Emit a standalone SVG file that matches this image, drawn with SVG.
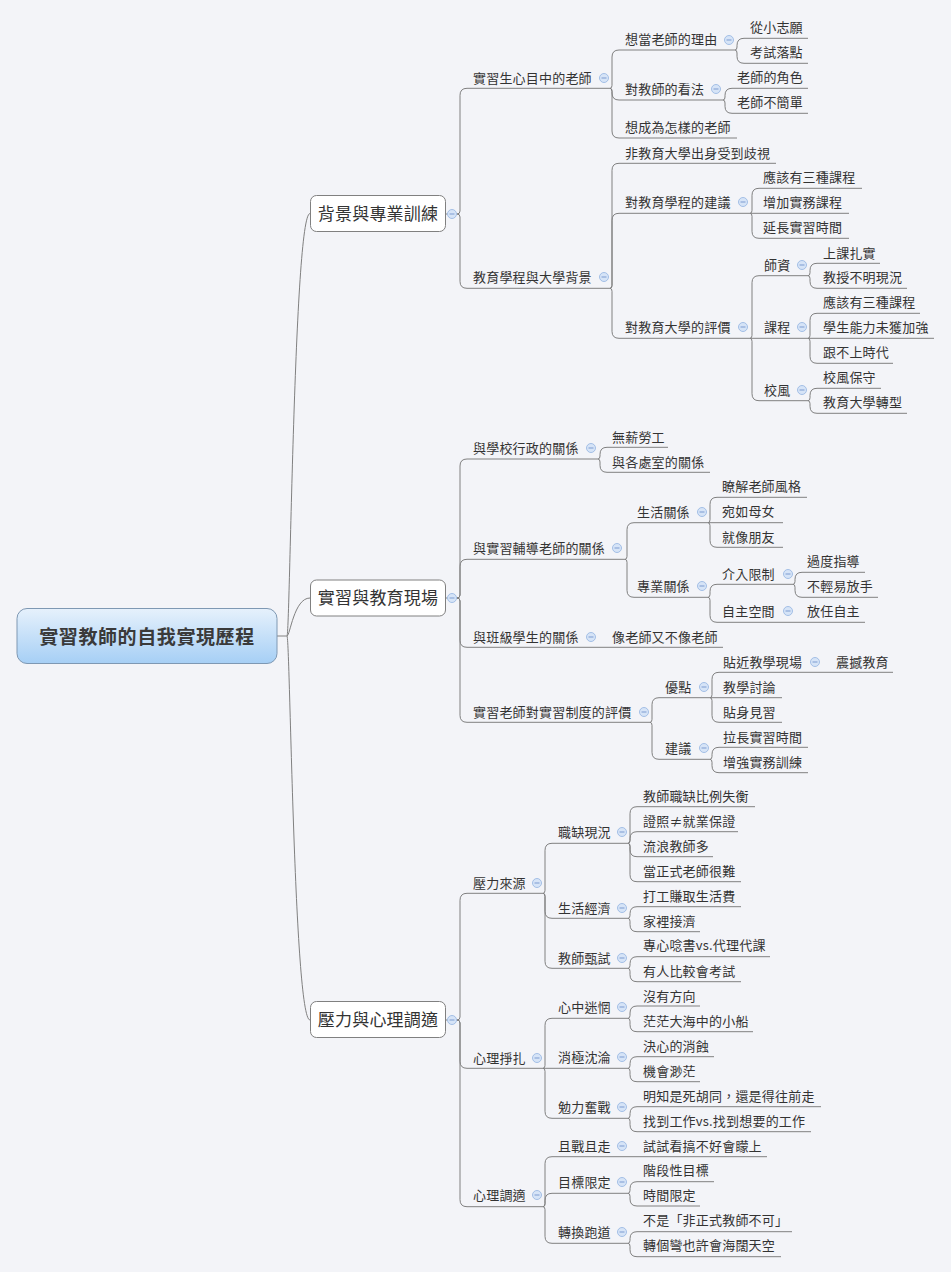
<svg xmlns="http://www.w3.org/2000/svg" xmlns:xlink="http://www.w3.org/1999/xlink" width="951" height="1272" viewBox="0 0 951 1272" xml:lang="zh-Hant-TW" lang="zh-Hant-TW">
<defs>
<linearGradient id="rg" x1="0" y1="0" x2="0" y2="1">
<stop offset="0" stop-color="#e6f1fc"/>
<stop offset="1" stop-color="#a6cff5"/>
</linearGradient>
<g id="col"><circle r="4.5" fill="#d6e4f7" stroke="#a3bfe6" stroke-width="1"/><path d="M-2.5 0H2.5" stroke="#7c9bd0" stroke-width="1"/></g>
<style>
text{font-family:"Noto Sans CJK TC","Noto Sans CJK SC",sans-serif;fill:#333;}
.t{font-size:13px;letter-spacing:0.2px;}
.mt{font-size:17px;text-anchor:middle;letter-spacing:0.2px;}
.rt{font-size:19px;font-weight:bold;text-anchor:middle;letter-spacing:0.6px;fill:#3a3a3a;}
.ul{fill:none;stroke:#808080;stroke-width:1;}
.c path{fill:none;stroke:#808080;stroke-width:1;}
.box{fill:#ffffff;stroke:#808080;stroke-width:1;}
</style>
</defs>
<rect width="951" height="1272" fill="#f3f4f8"/>
<g id="connectors" class="c">
<path d="M277,636 H287 C290,636 294,213.5 310,213.5"/>
<path d="M287,636 C290,636 294,598 310,598"/>
<path d="M287,636 C290,636 294,1020 310,1020"/>
<path d="M446,214 H457"/>
<path d="M446,598 H457"/>
<path d="M446,1020 H457"/>
<path d="M457,214 Q460,214 460,211 V95.3 Q460,88.3 467,88.3"/>
<path d="M457,214 Q460,214 460,217 V281.3 Q460,288.3 467,288.3"/>
<path d="M610,88.3 Q612,88.3 612,85.3 V57 Q612,50 619,50"/>
<path d="M610,88.3 Q612,88.3 612,91.3 V93 Q612,100 619,100"/>
<path d="M610,88.3 Q612,88.3 612,91.3 V131 Q612,138 619,138"/>
<path d="M735,50 Q737,50 737,47 V45.3 Q737,38.3 744,38.3"/>
<path d="M735,50 Q737,50 737,53 V56.3 Q737,63.3 744,63.3"/>
<path d="M723,100 Q725,100 725,97 V95.3 Q725,88.3 732,88.3"/>
<path d="M723,100 Q725,100 725,103 V106.3 Q725,113.3 732,113.3"/>
<path d="M610,288.3 Q612,288.3 612,285.3 V170.3 Q612,163.3 619,163.3"/>
<path d="M610,288.3 Q612,288.3 612,285.3 V220.3 Q612,213.3 619,213.3"/>
<path d="M610,288.3 Q612,288.3 612,291.3 V331.3 Q612,338.3 619,338.3"/>
<path d="M750,213.3 Q752,213.3 752,210.3 V195.3 Q752,188.3 759,188.3"/>
<path d="M750,213.3 H759"/>
<path d="M750,213.3 Q752,213.3 752,216.3 V231.3 Q752,238.3 759,238.3"/>
<path d="M750,338.3 Q752,338.3 752,335.3 V282.7 Q752,275.7 759,275.7"/>
<path d="M750,338.3 H759"/>
<path d="M750,338.3 Q752,338.3 752,341.3 V393.7 Q752,400.7 759,400.7"/>
<path d="M808,275.7 Q810,275.7 810,272.7 V270.3 Q810,263.3 817,263.3"/>
<path d="M808,275.7 Q810,275.7 810,278.7 V281.3 Q810,288.3 817,288.3"/>
<path d="M808,338.3 Q810,338.3 810,335.3 V320.3 Q810,313.3 817,313.3"/>
<path d="M808,338.3 H817"/>
<path d="M808,338.3 Q810,338.3 810,341.3 V356.3 Q810,363.3 817,363.3"/>
<path d="M808,400.7 Q810,400.7 810,397.7 V395.3 Q810,388.3 817,388.3"/>
<path d="M808,400.7 Q810,400.7 810,403.7 V406.3 Q810,413.3 817,413.3"/>
<path d="M457,598 Q460,598 460,595 V466 Q460,459 467,459"/>
<path d="M457,598 Q460,598 460,595 V566.3 Q460,559.3 467,559.3"/>
<path d="M457,598 Q460,598 460,601 V640.3 Q460,647.3 467,647.3"/>
<path d="M457,598 Q460,598 460,601 V715.3 Q460,722.3 467,722.3"/>
<path d="M598,459 Q600,459 600,456 V454.3 Q600,447.3 607,447.3"/>
<path d="M598,459 Q600,459 600,462 V465.3 Q600,472.3 607,472.3"/>
<path d="M625,559.3 Q627,559.3 627,556.3 V529.7 Q627,522.7 634,522.7"/>
<path d="M625,559.3 Q627,559.3 627,562.3 V590.3 Q627,597.3 634,597.3"/>
<path d="M708,522.7 Q710,522.7 710,519.7 V504.3 Q710,497.3 717,497.3"/>
<path d="M708,522.7 H717"/>
<path d="M708,522.7 Q710,522.7 710,525.7 V540.3 Q710,547.3 717,547.3"/>
<path d="M708,597.3 Q710,597.3 710,594.3 V591.3 Q710,584.3 717,584.3"/>
<path d="M708,597.3 Q710,597.3 710,600.3 V615.3 Q710,622.3 717,622.3"/>
<path d="M793,584.3 Q795,584.3 795,581.3 V579.3 Q795,572.3 802,572.3"/>
<path d="M793,584.3 Q795,584.3 795,587.3 V590.3 Q795,597.3 802,597.3"/>
<path d="M793,622.3 H802"/>
<path d="M598,647.3 H607"/>
<path d="M650,722.3 Q652,722.3 652,719.3 V704.7 Q652,697.7 659,697.7"/>
<path d="M650,722.3 Q652,722.3 652,725.3 V752.3 Q652,759.3 659,759.3"/>
<path d="M710,697.7 Q712,697.7 712,694.7 V679.3 Q712,672.3 719,672.3"/>
<path d="M710,697.7 H719"/>
<path d="M710,697.7 Q712,697.7 712,700.7 V715.3 Q712,722.3 719,722.3"/>
<path d="M822,672.3 H831"/>
<path d="M710,759.3 Q712,759.3 712,756.3 V754.3 Q712,747.3 719,747.3"/>
<path d="M710,759.3 Q712,759.3 712,762.3 V765.7 Q712,772.7 719,772.7"/>
<path d="M457,1020 Q460,1020 460,1017 V900.3 Q460,893.3 467,893.3"/>
<path d="M457,1020 Q460,1020 460,1023 V1061.3 Q460,1068.3 467,1068.3"/>
<path d="M457,1020 Q460,1020 460,1023 V1199.7 Q460,1206.7 467,1206.7"/>
<path d="M543,893.3 Q545,893.3 545,890.3 V850.3 Q545,843.3 552,843.3"/>
<path d="M543,893.3 Q545,893.3 545,896.3 V911.3 Q545,918.3 552,918.3"/>
<path d="M543,893.3 Q545,893.3 545,896.3 V961.3 Q545,968.3 552,968.3"/>
<path d="M628,843.3 Q630,843.3 630,840.3 V813.7 Q630,806.7 637,806.7"/>
<path d="M628,843.3 Q630,843.3 630,840.3 V838.7 Q630,831.7 637,831.7"/>
<path d="M628,843.3 Q630,843.3 630,846.3 V849.7 Q630,856.7 637,856.7"/>
<path d="M628,843.3 Q630,843.3 630,846.3 V874.7 Q630,881.7 637,881.7"/>
<path d="M628,918.3 Q630,918.3 630,915.3 V913.7 Q630,906.7 637,906.7"/>
<path d="M628,918.3 Q630,918.3 630,921.3 V924.7 Q630,931.7 637,931.7"/>
<path d="M628,968.3 Q630,968.3 630,965.3 V963.7 Q630,956.7 637,956.7"/>
<path d="M628,968.3 Q630,968.3 630,971.3 V974.7 Q630,981.7 637,981.7"/>
<path d="M543,1068.3 Q545,1068.3 545,1065.3 V1025.3 Q545,1018.3 552,1018.3"/>
<path d="M543,1068.3 H552"/>
<path d="M543,1068.3 Q545,1068.3 545,1071.3 V1111.3 Q545,1118.3 552,1118.3"/>
<path d="M628,1018.3 Q630,1018.3 630,1015.3 V1013 Q630,1006 637,1006"/>
<path d="M628,1018.3 Q630,1018.3 630,1021.3 V1024.7 Q630,1031.7 637,1031.7"/>
<path d="M628,1068.3 Q630,1068.3 630,1065.3 V1063.7 Q630,1056.7 637,1056.7"/>
<path d="M628,1068.3 Q630,1068.3 630,1071.3 V1074.7 Q630,1081.7 637,1081.7"/>
<path d="M628,1118.3 Q630,1118.3 630,1115.3 V1113.7 Q630,1106.7 637,1106.7"/>
<path d="M628,1118.3 Q630,1118.3 630,1121.3 V1124.7 Q630,1131.7 637,1131.7"/>
<path d="M543,1206.7 Q545,1206.7 545,1203.7 V1163.7 Q545,1156.7 552,1156.7"/>
<path d="M543,1206.7 Q545,1206.7 545,1203.7 V1200.3 Q545,1193.3 552,1193.3"/>
<path d="M543,1206.7 Q545,1206.7 545,1209.7 V1236.3 Q545,1243.3 552,1243.3"/>
<path d="M628,1156.7 H637"/>
<path d="M628,1193.3 Q630,1193.3 630,1190.3 V1188.7 Q630,1181.7 637,1181.7"/>
<path d="M628,1193.3 Q630,1193.3 630,1196.3 V1199 Q630,1206 637,1206"/>
<path d="M628,1243.3 Q630,1243.3 630,1240.3 V1238.7 Q630,1231.7 637,1231.7"/>
<path d="M628,1243.3 Q630,1243.3 630,1246.3 V1249.7 Q630,1256.7 637,1256.7"/>
</g>

<g id="root"><rect x="17" y="608.5" width="260" height="55" rx="10" fill="url(#rg)" stroke="#7e98b3"/><text x="147" y="643.5" class="rt">實習教師的自我實現歷程</text></g>

<g id="n-main1"><rect x="310.5" y="195.5" width="135" height="36" rx="6" class="box"/><text x="378" y="219.5" class="mt">背景與專業訓練</text><use href="#col" x="452" y="214"/></g>
<g id="n-A"><path d="M467,88.3 H610" class="ul"/><text x="473" y="82.7" class="t">實習生心目中的老師</text><use href="#col" x="604" y="78"/></g>
<g id="n-A1"><path d="M619,50 H735" class="ul"/><text x="625" y="44.3" class="t">想當老師的理由</text><use href="#col" x="729" y="40"/></g>
<g id="n-A1a"><path d="M744,38.3 H808" class="ul"/><text x="750" y="32" class="t">從小志願</text></g>
<g id="n-A1b"><path d="M744,63.3 H808" class="ul"/><text x="750" y="57.3" class="t">考試落點</text></g>
<g id="n-A2"><path d="M619,100 H723" class="ul"/><text x="625" y="94" class="t">對教師的看法</text><use href="#col" x="716" y="89"/></g>
<g id="n-A2a"><path d="M732,88.3 H808" class="ul"/><text x="737" y="82" class="t">老師的角色</text></g>
<g id="n-A2b"><path d="M732,113.3 H808" class="ul"/><text x="737" y="107" class="t">老師不簡單</text></g>
<g id="n-A3"><path d="M619,138 H737" class="ul"/><text x="625" y="132" class="t">想成為怎樣的老師</text></g>
<g id="n-B"><path d="M467,288.3 H610" class="ul"/><text x="473" y="282.3" class="t">教育學程與大學背景</text><use href="#col" x="604" y="277"/></g>
<g id="n-B1"><path d="M619,163.3 H776" class="ul"/><text x="625" y="157.7" class="t">非教育大學出身受到歧視</text></g>
<g id="n-B2"><path d="M619,213.3 H750" class="ul"/><text x="625" y="207.3" class="t">對教育學程的建議</text><use href="#col" x="743" y="202"/></g>
<g id="n-B2a"><path d="M759,188.3 H862" class="ul"/><text x="763" y="182.3" class="t">應該有三種課程</text></g>
<g id="n-B2b"><path d="M759,213.3 H849" class="ul"/><text x="763" y="207.3" class="t">增加實務課程</text></g>
<g id="n-B2c"><path d="M759,238.3 H849" class="ul"/><text x="763" y="232.3" class="t">延長實習時間</text></g>
<g id="n-B3"><path d="M619,338.3 H750" class="ul"/><text x="625" y="332.3" class="t">對教育大學的評價</text><use href="#col" x="743" y="327"/></g>
<g id="n-B3a"><path d="M759,275.7 H808" class="ul"/><text x="764" y="270" class="t">師資</text><use href="#col" x="802" y="265"/></g>
<g id="n-B3a1"><path d="M817,263.3 H880" class="ul"/><text x="823" y="257.7" class="t">上課扎實</text></g>
<g id="n-B3a2"><path d="M817,288.3 H907" class="ul"/><text x="823" y="282.3" class="t">教授不明現況</text></g>
<g id="n-B3b"><path d="M759,338.3 H808" class="ul"/><text x="764" y="332.3" class="t">課程</text><use href="#col" x="802" y="327"/></g>
<g id="n-B3b1"><path d="M817,313.3 H920" class="ul"/><text x="823" y="307.3" class="t">應該有三種課程</text></g>
<g id="n-B3b2"><path d="M817,338.3 H934" class="ul"/><text x="823" y="332.3" class="t">學生能力未獲加強</text></g>
<g id="n-B3b3"><path d="M817,363.3 H893" class="ul"/><text x="823" y="357.3" class="t">跟不上時代</text></g>
<g id="n-B3c"><path d="M759,400.7 H808" class="ul"/><text x="764" y="395" class="t">校風</text><use href="#col" x="802" y="390"/></g>
<g id="n-B3c1"><path d="M817,388.3 H881" class="ul"/><text x="823" y="382.3" class="t">校風保守</text></g>
<g id="n-B3c2"><path d="M817,413.3 H907" class="ul"/><text x="823" y="407.3" class="t">教育大學轉型</text></g>

<g id="n-main2"><rect x="310.5" y="580" width="135" height="36" rx="6" class="box"/><text x="378" y="603.5" class="mt">實習與教育現場</text><use href="#col" x="452" y="598"/></g>
<g id="n-C"><path d="M467,459 H598" class="ul"/><text x="473" y="453.3" class="t">與學校行政的關係</text><use href="#col" x="591" y="448"/></g>
<g id="n-C1"><path d="M607,447.3 H668" class="ul"/><text x="612" y="441.7" class="t">無薪勞工</text></g>
<g id="n-C2"><path d="M607,472.3 H710" class="ul"/><text x="612" y="466.7" class="t">與各處室的關係</text></g>
<g id="n-D"><path d="M467,559.3 H625" class="ul"/><text x="473" y="553.3" class="t">與實習輔導老師的關係</text><use href="#col" x="617" y="548"/></g>
<g id="n-D1"><path d="M634,522.7 H708" class="ul"/><text x="637" y="516.7" class="t">生活關係</text><use href="#col" x="702" y="512"/></g>
<g id="n-D1a"><path d="M717,497.3 H807" class="ul"/><text x="722" y="491" class="t">瞭解老師風格</text></g>
<g id="n-D1b"><path d="M717,522.7 H783" class="ul"/><text x="722" y="516" class="t">宛如母女</text></g>
<g id="n-D1c"><path d="M717,547.3 H783" class="ul"/><text x="722" y="541.7" class="t">就像朋友</text></g>
<g id="n-D2"><path d="M634,597.3 H708" class="ul"/><text x="637" y="591" class="t">專業關係</text><use href="#col" x="702" y="586"/></g>
<g id="n-D2a"><path d="M717,584.3 H793" class="ul"/><text x="722" y="579" class="t">介入限制</text><use href="#col" x="788" y="574"/></g>
<g id="n-D2a1"><path d="M802,572.3 H865" class="ul"/><text x="807" y="566" class="t">過度指導</text></g>
<g id="n-D2a2"><path d="M802,597.3 H878" class="ul"/><text x="807" y="591" class="t">不輕易放手</text></g>
<g id="n-D2b"><path d="M717,622.3 H793" class="ul"/><text x="722" y="616" class="t">自主空間</text><use href="#col" x="788" y="611"/></g>
<g id="n-D2b1"><path d="M802,622.3 H865" class="ul"/><text x="807" y="616" class="t">放任自主</text></g>
<g id="n-E"><path d="M467,647.3 H598" class="ul"/><text x="473" y="641.7" class="t">與班級學生的關係</text><use href="#col" x="591" y="637"/></g>
<g id="n-E1"><path d="M607,647.3 H723" class="ul"/><text x="612" y="641.7" class="t">像老師又不像老師</text></g>
<g id="n-F"><path d="M467,722.3 H650" class="ul"/><text x="473" y="716.7" class="t">實習老師對實習制度的評價</text><use href="#col" x="644" y="712"/></g>
<g id="n-F1"><path d="M659,697.7 H710" class="ul"/><text x="665" y="692.3" class="t">優點</text><use href="#col" x="704" y="687"/></g>
<g id="n-F1a"><path d="M719,672.3 H822" class="ul"/><text x="723" y="666.7" class="t">貼近教學現場</text><use href="#col" x="815" y="662"/></g>
<g id="n-F1a1"><path d="M831,672.3 H893" class="ul"/><text x="836" y="666.7" class="t">震撼教育</text></g>
<g id="n-F1b"><path d="M719,697.7 H782" class="ul"/><text x="723" y="691.7" class="t">教學討論</text></g>
<g id="n-F1c"><path d="M719,722.3 H782" class="ul"/><text x="723" y="716.7" class="t">貼身見習</text></g>
<g id="n-F2"><path d="M659,759.3 H710" class="ul"/><text x="665" y="753.3" class="t">建議</text><use href="#col" x="704" y="748"/></g>
<g id="n-F2a"><path d="M719,747.3 H808" class="ul"/><text x="723" y="741.7" class="t">拉長實習時間</text></g>
<g id="n-F2b"><path d="M719,772.7 H808" class="ul"/><text x="723" y="766.7" class="t">增強實務訓練</text></g>

<g id="n-main3"><rect x="310.5" y="1001.5" width="135" height="36" rx="6" class="box"/><text x="378" y="1026" class="mt">壓力與心理調適</text><use href="#col" x="452" y="1020"/></g>
<g id="n-G"><path d="M467,893.3 H543" class="ul"/><text x="473" y="887.7" class="t">壓力來源</text><use href="#col" x="537" y="883"/></g>
<g id="n-G1"><path d="M552,843.3 H628" class="ul"/><text x="558" y="837.3" class="t">職缺現況</text><use href="#col" x="622" y="832"/></g>
<g id="n-G1a"><path d="M637,806.7 H755" class="ul"/><text x="643" y="800.7" class="t">教師職缺比例失衡</text></g>
<g id="n-G1b"><path d="M637,831.7 H738" class="ul"/><text x="643" y="825.7" class="t">證照≠就業保證</text></g>
<g id="n-G1c"><path d="M637,856.7 H713" class="ul"/><text x="643" y="850.7" class="t">流浪教師多</text></g>
<g id="n-G1d"><path d="M637,881.7 H741" class="ul"/><text x="643" y="875.7" class="t">當正式老師很難</text></g>
<g id="n-G2"><path d="M552,918.3 H628" class="ul"/><text x="558" y="912.7" class="t">生活經濟</text><use href="#col" x="622" y="908"/></g>
<g id="n-G2a"><path d="M637,906.7 H741" class="ul"/><text x="643" y="901" class="t">打工賺取生活費</text></g>
<g id="n-G2b"><path d="M637,931.7 H700" class="ul"/><text x="643" y="925.7" class="t">家裡接濟</text></g>
<g id="n-G3"><path d="M552,968.3 H628" class="ul"/><text x="558" y="962.7" class="t">教師甄試</text><use href="#col" x="622" y="958"/></g>
<g id="n-G3a"><path d="M637,956.7 H770" class="ul"/><text x="643" y="950" class="t">專心唸書vs.代理代課</text></g>
<g id="n-G3b"><path d="M637,981.7 H741" class="ul"/><text x="643" y="975.7" class="t">有人比較會考試</text></g>
<g id="n-H"><path d="M467,1068.3 H543" class="ul"/><text x="473" y="1062.7" class="t">心理掙扎</text><use href="#col" x="537" y="1058"/></g>
<g id="n-H1"><path d="M552,1018.3 H628" class="ul"/><text x="558" y="1012.3" class="t">心中迷惘</text><use href="#col" x="622" y="1007"/></g>
<g id="n-H1a"><path d="M637,1006 H700" class="ul"/><text x="643" y="1000.7" class="t">沒有方向</text></g>
<g id="n-H1b"><path d="M637,1031.7 H753" class="ul"/><text x="643" y="1025.7" class="t">茫茫大海中的小船</text></g>
<g id="n-H2"><path d="M552,1068.3 H628" class="ul"/><text x="558" y="1062.3" class="t">消極沈淪</text><use href="#col" x="622" y="1057"/></g>
<g id="n-H2a"><path d="M637,1056.7 H714" class="ul"/><text x="643" y="1050.7" class="t">決心的消蝕</text></g>
<g id="n-H2b"><path d="M637,1081.7 H700" class="ul"/><text x="643" y="1075.7" class="t">機會渺茫</text></g>
<g id="n-H3"><path d="M552,1118.3 H628" class="ul"/><text x="558" y="1112.3" class="t">勉力奮戰</text><use href="#col" x="622" y="1107"/></g>
<g id="n-H3a"><path d="M637,1106.7 H821" class="ul"/><text x="643" y="1100.7" class="t" xml:lang="zh-Hant-TW">明知是死胡同，還是得往前走</text></g>
<g id="n-H3b"><path d="M637,1131.7 H811" class="ul"/><text x="643" y="1125.7" class="t">找到工作vs.找到想要的工作</text></g>
<g id="n-I"><path d="M467,1206.7 H543" class="ul"/><text x="473" y="1200" class="t">心理調適</text><use href="#col" x="537" y="1195"/></g>
<g id="n-I1"><path d="M552,1156.7 H628" class="ul"/><text x="558" y="1150.7" class="t">且戰且走</text><use href="#col" x="622" y="1146"/></g>
<g id="n-I1a"><path d="M637,1156.7 H767" class="ul"/><text x="643" y="1150.7" class="t">試試看搞不好會矇上</text></g>
<g id="n-I2"><path d="M552,1193.3 H628" class="ul"/><text x="558" y="1187.3" class="t">目標限定</text><use href="#col" x="622" y="1182"/></g>
<g id="n-I2a"><path d="M637,1181.7 H714" class="ul"/><text x="643" y="1175" class="t">階段性目標</text></g>
<g id="n-I2b"><path d="M637,1206 H700" class="ul"/><text x="643" y="1200" class="t">時間限定</text></g>
<g id="n-I3"><path d="M552,1243.3 H628" class="ul"/><text x="558" y="1237.3" class="t">轉換跑道</text><use href="#col" x="622" y="1232"/></g>
<g id="n-I3a"><path d="M637,1231.7 H792" class="ul"/><text x="643" y="1225" class="t">不是「非正式教師不可」</text></g>
<g id="n-I3b"><path d="M637,1256.7 H781" class="ul"/><text x="643" y="1250" class="t">轉個彎也許會海闊天空</text></g>
</svg>
